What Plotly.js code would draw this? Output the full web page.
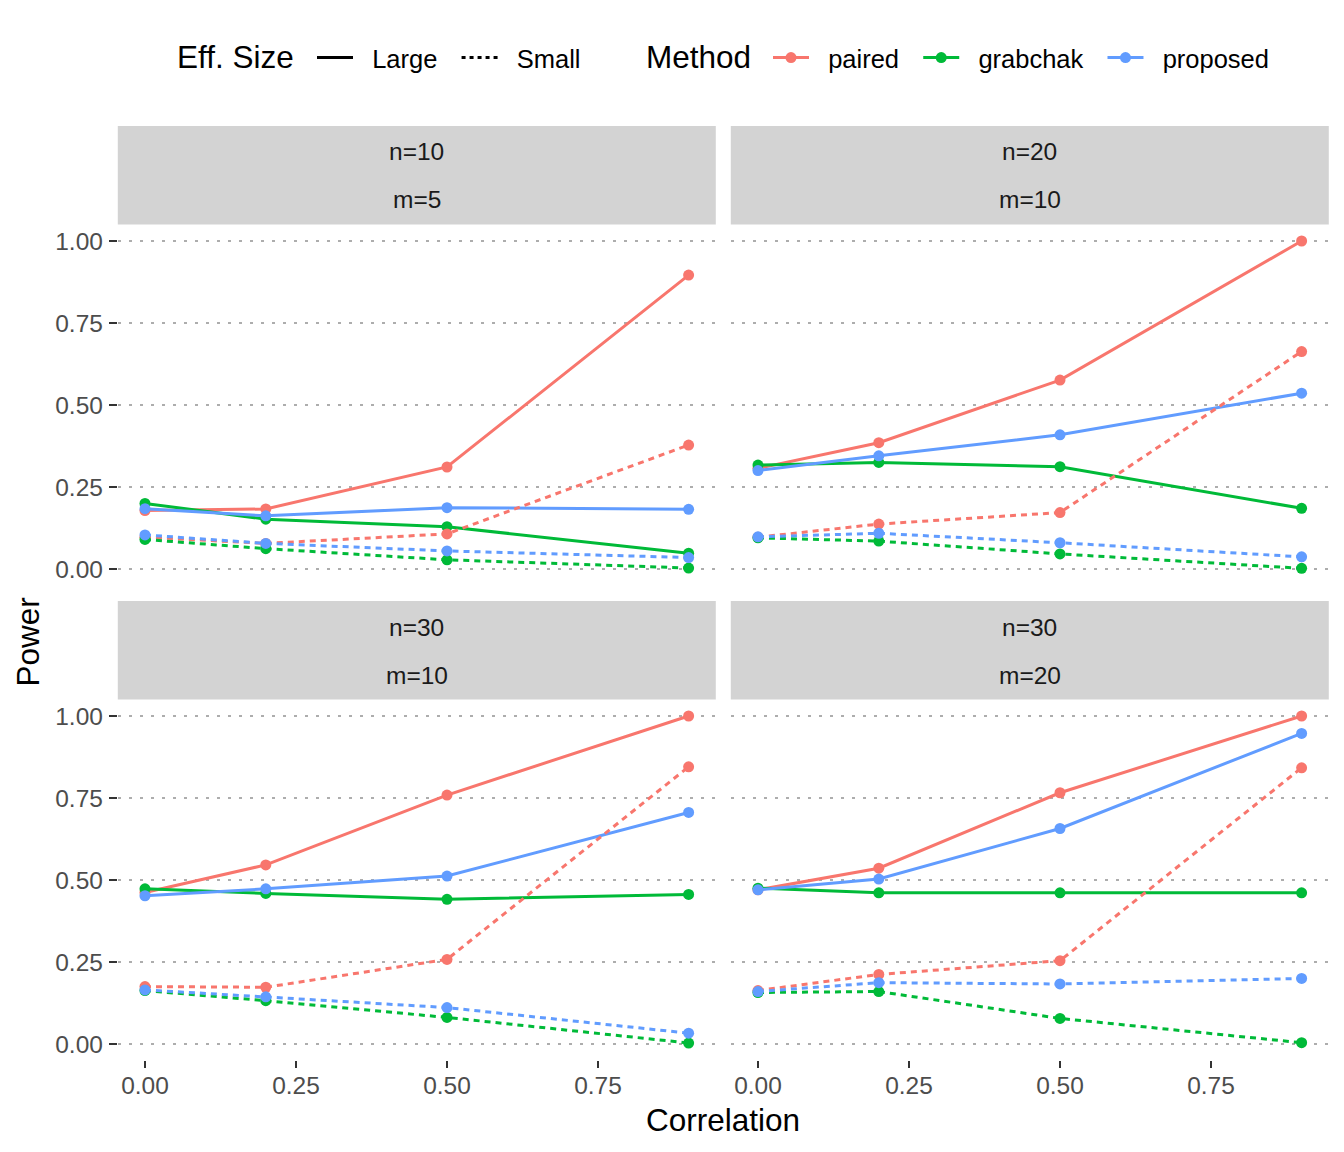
<!DOCTYPE html>
<html>
<head>
<meta charset="utf-8">
<script src="https://cdn.plot.ly/plotly-3.0.1.min.js"></script>
<style>html,body{margin:0;padding:0;background:#fff;}#chart{width:1344px;height:1152px;}</style>
</head>
<body>
<div id="chart"></div>
<script>
// ---- data ----
const corr = [0, 0.2, 0.5, 0.9];
const methods = ['paired', 'grabchak', 'proposed'];
const effSizes = ['Large', 'Small'];
const panelN = ['n=10', 'n=20', 'n=30', 'n=30'];
const panelM = ['m=5', 'm=10', 'm=10', 'm=20'];
const xTickVals = [0, 0.25, 0.5, 0.75];
const yTickVals = [0, 0.25, 0.5, 0.75, 1];
const legendTitles = ['Eff. Size', 'Method'];
const axisTitleX = 'Correlation';
const axisTitleY = 'Power';

// panel 1: n=10, m=5
const p1_paired_large   = [0.178, 0.183, 0.311, 0.896];
const p1_paired_small   = [0.097, 0.078, 0.107, 0.378];
const p1_grabchak_large = [0.200, 0.152, 0.129, 0.048];
const p1_grabchak_small = [0.090, 0.062, 0.028, 0.003];
const p1_proposed_large = [0.184, 0.162, 0.187, 0.182];
const p1_proposed_small = [0.104, 0.078, 0.055, 0.035];
// panel 2: n=20, m=10
const p2_paired_large   = [0.307, 0.385, 0.576, 1.000];
const p2_paired_small   = [0.097, 0.137, 0.172, 0.663];
const p2_grabchak_large = [0.317, 0.325, 0.312, 0.185];
const p2_grabchak_small = [0.095, 0.085, 0.046, 0.002];
const p2_proposed_large = [0.300, 0.345, 0.409, 0.536];
const p2_proposed_small = [0.098, 0.109, 0.080, 0.037];
// panel 3: n=30, m=10
const p3_paired_large   = [0.462, 0.546, 0.759, 1.000];
const p3_paired_small   = [0.175, 0.173, 0.258, 0.845];
const p3_grabchak_large = [0.473, 0.459, 0.441, 0.456];
const p3_grabchak_small = [0.163, 0.132, 0.081, 0.003];
const p3_proposed_large = [0.452, 0.473, 0.512, 0.706];
const p3_proposed_small = [0.165, 0.144, 0.111, 0.033];
// panel 4: n=30, m=20
const p4_paired_large   = [0.470, 0.536, 0.766, 1.000];
const p4_paired_small   = [0.163, 0.212, 0.254, 0.842];
const p4_grabchak_large = [0.475, 0.461, 0.461, 0.461];
const p4_grabchak_small = [0.157, 0.160, 0.078, 0.004];
const p4_proposed_large = [0.470, 0.503, 0.657, 0.947];
const p4_proposed_small = [0.160, 0.187, 0.183, 0.200];

const panels = [
  {paired: [p1_paired_large, p1_paired_small], grabchak: [p1_grabchak_large, p1_grabchak_small], proposed: [p1_proposed_large, p1_proposed_small]},
  {paired: [p2_paired_large, p2_paired_small], grabchak: [p2_grabchak_large, p2_grabchak_small], proposed: [p2_proposed_large, p2_proposed_small]},
  {paired: [p3_paired_large, p3_paired_small], grabchak: [p3_grabchak_large, p3_grabchak_small], proposed: [p3_proposed_large, p3_proposed_small]},
  {paired: [p4_paired_large, p4_paired_small], grabchak: [p4_grabchak_large, p4_grabchak_small], proposed: [p4_proposed_large, p4_proposed_small]}
];

// ---- styles ----
const FONT = 'Liberation Sans, Arial, Helvetica, sans-serif';
const colors = {paired: '#F8766D', grabchak: '#00BA38', proposed: '#619CFF'};
const dashes = ['solid', '6px,5px'];
const axisIds = [['x', 'y'], ['x2', 'y2'], ['x3', 'y3'], ['x4', 'y4']];
const NB = '\u00A0';
const PAD_L = NB + NB, PAD_R = NB + NB;

const traces = [];
panels.forEach((p, pi) => {
  effSizes.forEach((es, ei) => {
    methods.forEach(m => {
      traces.push({
        x: corr, y: p[m][ei],
        xaxis: axisIds[pi][0], yaxis: axisIds[pi][1],
        mode: 'lines+markers', type: 'scatter',
        line: {color: colors[m], width: 3, dash: dashes[ei]},
        marker: {color: colors[m], size: 11},
        showlegend: false, hoverinfo: 'skip'
      });
    });
  });
});
// legend entries
effSizes.forEach((es, ei) => {
  traces.push({x: [null], y: [null], mode: 'lines', type: 'scatter', name: PAD_L + es + PAD_R,
    line: {color: '#000000', width: 3, dash: ei === 0 ? 'solid' : '4px,4px'}, legend: 'legend', showlegend: true});
});
methods.forEach(m => {
  traces.push({x: [null], y: [null], mode: 'lines+markers', type: 'scatter', name: PAD_L + m + PAD_R,
    line: {color: colors[m], width: 3}, marker: {color: colors[m], size: 11}, legend: 'legend2', showlegend: true});
});

const W = 1344, H = 1152;
const xLeft = [117.8 / W, 715.8 / W], xRight = [730.8 / W, 1328.8 / W];
const yTop = [1 - 585.4 / H, 1 - 224.6 / H], yBot = [1 - 1060.4 / H, 1 - 699.6 / H];
const TICK = 24.5;

function xax(domain, anchor, labels) {
  return {domain: domain, anchor: anchor, range: [-0.045, 0.945], tickvals: xTickVals, tickformat: '.2f',
    showgrid: false, zeroline: false, showline: false,
    ticks: labels ? 'outside' : '', ticklen: 7, tickwidth: 2.5, tickcolor: '#333333',
    showticklabels: labels, tickfont: {family: FONT, size: TICK, color: '#4D4D4D'}, ticklabelstandoff: -4};
}
function yax(domain, anchor, labels) {
  return {domain: domain, anchor: anchor, range: [-0.05, 1.05], tickvals: yTickVals, tickformat: '.2f',
    showgrid: true, gridcolor: '#ADADAD', gridwidth: 2.8, griddash: '3px,8px', zeroline: false, showline: false,
    ticks: labels ? 'outside' : '', ticklen: 8, tickwidth: 2.5, tickcolor: '#333333',
    showticklabels: labels, tickfont: {family: FONT, size: TICK, color: '#4D4D4D'}, ticklabelstandoff: 1};
}

const shapes = [], annotations = [];
const stripTop = 1 + 98.6 / 360.8;
axisIds.forEach((ids, pi) => {
  shapes.push({type: 'rect', xref: ids[0] + ' domain', yref: ids[1] + ' domain', x0: 0, x1: 1, y0: 1, y1: stripTop,
    fillcolor: '#D3D3D3', line: {width: 0}, layer: 'below'});
  annotations.push({xref: ids[0] + ' domain', yref: ids[1] + ' domain', x: 0.5, y: 1 + 72.6 / 360.8, text: panelN[pi],
    showarrow: false, font: {family: FONT, size: TICK, color: '#1A1A1A'}, xanchor: 'center', yanchor: 'middle'});
  annotations.push({xref: ids[0] + ' domain', yref: ids[1] + ' domain', x: 0.5, y: 1 + 24.6 / 360.8, text: panelM[pi],
    showarrow: false, font: {family: FONT, size: TICK, color: '#1A1A1A'}, xanchor: 'center', yanchor: 'middle'});
});
annotations.push({xref: 'paper', yref: 'paper', x: 27.5 / W, y: 1 - 642 / H, text: axisTitleY, textangle: -90,
  showarrow: false, font: {family: FONT, size: 31.5, color: '#000000'}, xanchor: 'center', yanchor: 'middle'});
annotations.push({xref: 'paper', yref: 'paper', x: 723.5 / W, y: 1 - 1120 / H, text: axisTitleX,
  showarrow: false, font: {family: FONT, size: 31.5, color: '#000000'}, xanchor: 'center', yanchor: 'middle'});
// legend titles
annotations.push({xref: 'paper', yref: 'paper', x: 175 / W, y: 1 - 57 / H, text: legendTitles[0],
  showarrow: false, font: {family: FONT, size: 31.5, color: '#000000'}, xanchor: 'left', yanchor: 'middle'});
annotations.push({xref: 'paper', yref: 'paper', x: 644 / W, y: 1 - 57 / H, text: legendTitles[1],
  showarrow: false, font: {family: FONT, size: 31.5, color: '#000000'}, xanchor: 'left', yanchor: 'middle'});

const LEGFONT = 25.5;
const layout = {
  width: W, height: H,
  margin: {l: 0, r: 0, t: 0, b: 0},
  paper_bgcolor: '#ffffff', plot_bgcolor: '#ffffff',
  font: {family: FONT},
  xaxis: xax(xLeft, 'y', false), yaxis: yax(yTop, 'x', true),
  xaxis2: xax(xRight, 'y2', false), yaxis2: yax(yTop, 'x2', false),
  xaxis3: xax(xLeft, 'y3', true), yaxis3: yax(yBot, 'x3', true),
  xaxis4: xax(xRight, 'y4', true), yaxis4: yax(yBot, 'x4', false),
  shapes: shapes, annotations: annotations,
  legend: {orientation: 'h', x: 312 / W, y: 1 - 58 / H, xanchor: 'left', yanchor: 'middle', itemwidth: 36,
    font: {family: FONT, size: LEGFONT, color: '#000'}, bgcolor: 'rgba(0,0,0,0)', traceorder: 'normal'},
  legend2: {orientation: 'h', x: 768 / W, y: 1 - 58 / H, xanchor: 'left', yanchor: 'middle', itemwidth: 36,
    font: {family: FONT, size: LEGFONT, color: '#000'}, bgcolor: 'rgba(0,0,0,0)', traceorder: 'normal'},
  showlegend: true
};

Plotly.newPlot('chart', traces, layout, {staticPlot: true, displayModeBar: false});
</script>
</body>
</html>
